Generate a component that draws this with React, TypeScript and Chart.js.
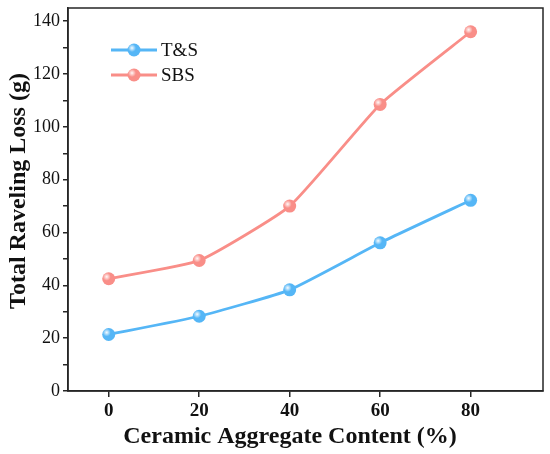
import React, { useEffect, useRef } from "react";
import { Chart, registerables, ChartConfiguration, Plugin } from "chart.js";

Chart.register(...registerables);

const contents = [0, 20, 40, 60, 80];
const tsLoss = [21.4, 28.3, 38.3, 56.1, 72.2];
const sbsLoss = [42.5, 49.4, 70.0, 108.5, 136.0];
const seriesNames = ["T&S", "SBS"];
const seriesColors = ["#55b6f6", "#f98e88"];
const xTitle = "Ceramic Aggregate Content (%)";
const yTitle = "Total Raveling Loss (g)";

const FONT = "'Liberation Serif', 'Times New Roman', serif";

// draws the closed box, axis titles and the in-plot legend
const boxAndLegend: Plugin = {
  id: "boxAndLegend",
  afterDatasetsDraw(chart) {
    const { ctx, chartArea } = chart;
    ctx.save();
    // shiny highlight on the markers
    chart.data.datasets.forEach((_, i) => {
      chart.getDatasetMeta(i).data.forEach((pt: any) => {
        const g = ctx.createRadialGradient(pt.x - 2, pt.y - 2, 0, pt.x - 2, pt.y - 2, 4);
        g.addColorStop(0, "rgba(255,255,255,0.95)");
        g.addColorStop(1, "rgba(255,255,255,0)");
        ctx.fillStyle = g;
        ctx.beginPath();
        ctx.arc(pt.x, pt.y, 6.5, 0, Math.PI * 2);
        ctx.fill();
      });
    });

    ctx.strokeStyle = "#262626";
    ctx.lineWidth = 1.5;
    ctx.strokeRect(chartArea.left, chartArea.top, chartArea.right - chartArea.left, chartArea.bottom - chartArea.top);

    seriesNames.forEach((name, i) => {
      const y = chartArea.top + 42 + i * 25;
      const x0 = chartArea.left + 43;
      ctx.strokeStyle = seriesColors[i];
      ctx.lineWidth = 2.8;
      ctx.beginPath();
      ctx.moveTo(x0, y);
      ctx.lineTo(x0 + 46, y);
      ctx.stroke();
      ctx.fillStyle = seriesColors[i];
      ctx.beginPath();
      ctx.arc(x0 + 23, y, 6.5, 0, Math.PI * 2);
      ctx.fill();
      const g = ctx.createRadialGradient(x0 + 21, y - 2, 0, x0 + 21, y - 2, 4);
      g.addColorStop(0, "rgba(255,255,255,0.95)");
      g.addColorStop(1, "rgba(255,255,255,0)");
      ctx.fillStyle = g;
      ctx.beginPath();
      ctx.arc(x0 + 23, y, 6.5, 0, Math.PI * 2);
      ctx.fill();
      ctx.fillStyle = "#111";
      ctx.font = `19px ${FONT}`;
      ctx.textBaseline = "middle";
      ctx.textAlign = "left";
      ctx.fillText(name, x0 + 50, y + 1);
    });

    // axis titles
    ctx.fillStyle = "#111";
    ctx.font = `bold 24px ${FONT}`;
    ctx.textAlign = "center";
    ctx.textBaseline = "middle";
    ctx.fillText(xTitle, 290, 437);
    ctx.translate(19, 191);
    ctx.rotate(-Math.PI / 2);
    ctx.fillText(yTitle, 0, 0);
    ctx.restore();
  },
};

const App: React.FC = () => {
  const chartRef = useRef<HTMLCanvasElement>(null);
  const chartInstance = useRef<Chart | null>(null);

  useEffect(() => {
    document.body.style.margin = "0";
    if (!chartRef.current) return;
    if (chartInstance.current) chartInstance.current.destroy();
    const ctx = chartRef.current.getContext("2d");
    if (!ctx) return;

    const makeSet = (name: string, values: number[], color: string) => ({
      label: name,
      data: contents.map((c, i) => ({ x: c, y: values[i] })),
      borderColor: color,
      backgroundColor: color,
      pointBackgroundColor: color,
      pointBorderWidth: 0,
      pointRadius: 6.5,
      borderWidth: 2.8,
      tension: 0.15,
    });

    const config: ChartConfiguration = {
      type: "line",
      data: {
        datasets: [
          makeSet(seriesNames[0], tsLoss, seriesColors[0]),
          makeSet(seriesNames[1], sbsLoss, seriesColors[1]),
        ],
      },
      options: {
        animation: false,
        responsive: false,
        layout: { padding: { top: 8, right: 7, left: 0, bottom: 0 } },
        plugins: { legend: { display: false }, tooltip: { enabled: false } },
        scales: {
          x: {
            type: "linear",
            min: -9,
            max: 96,
            grid: { drawOnChartArea: false, tickLength: 6, color: "#262626", lineWidth: 1.5 },
            border: { display: true, color: "#262626", width: 1.5 },
            ticks: {
              stepSize: 20,
              includeBounds: false,
              color: "#111",
              padding: 3,
              font: { family: FONT, size: 19, weight: "bold" },
            },
            afterFit: (s: any) => {
              s.height = 63;
              s.paddingLeft = 0;
              s.paddingRight = 0;
            },
          },
          y: {
            min: 0,
            max: 145,
            grid: { drawOnChartArea: false, tickLength: 5, color: "#262626", lineWidth: 1.5 },
            border: { display: true, color: "#262626", width: 1.5 },
            ticks: {
              stepSize: 10,
              includeBounds: false,
              color: "#111",
              padding: 3,
              font: { family: FONT, size: 18 },
              callback: (v: any) => (Number(v) % 20 === 0 ? String(v) : ""),
            },
            afterFit: (s: any) => {
              s.width = 68;
              s.paddingTop = 0;
              s.paddingBottom = 0;
            },
          },
        },
      },
      plugins: [boxAndLegend],
    };

    chartInstance.current = new Chart(ctx, config);
    return () => {
      if (chartInstance.current) {
        chartInstance.current.destroy();
        chartInstance.current = null;
      }
    };
  }, []);

  return (
    <div style={{ width: 550, height: 454, background: "#fff" }}>
      <canvas ref={chartRef} width={550} height={454} style={{ width: 550, height: 454 }} />
    </div>
  );
};

export default App;
